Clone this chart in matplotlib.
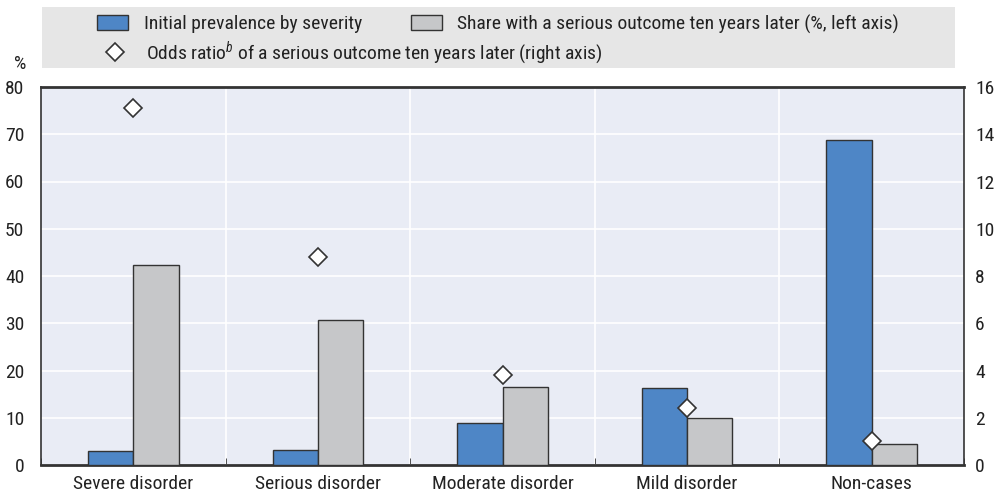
import matplotlib
matplotlib.use("Agg")
import matplotlib.pyplot as plt
import matplotlib.patches as mpatches
from matplotlib.lines import Line2D
import numpy as np

categories = ["Severe disorder", "Serious disorder", "Moderate disorder", "Mild disorder", "Non-cases"]
prevalence = [3.0, 3.2, 8.9, 16.4, 68.8]
share_serious = [42.3, 30.7, 16.5, 9.9, 4.4]
odds_ratio = [15.1, 8.8, 3.8, 2.4, 1.0]

left_ticks = [0, 10, 20, 30, 40, 50, 60, 70, 80]
right_ticks = [0, 2, 4, 6, 8, 10, 12, 14, 16]

blue = "#4E86C6"
grey = "#C6C7C9"
edge = "#333333"
txt = "#222222"
fs = 14

plt.rcParams['font.family'] = ['Roboto Condensed', 'DejaVu Sans']
plt.rcParams['mathtext.fontset'] = 'custom'
plt.rcParams['mathtext.it'] = 'Roboto Condensed:italic'
plt.rcParams['mathtext.rm'] = 'Roboto Condensed'

fig = plt.figure(figsize=(9.97, 4.99), dpi=100)
W, H = 997, 499
ax = fig.add_axes([41 / W, (H - 465) / H, (964 - 41) / W, (465 - 87) / H])
ax.set_facecolor("#E9ECF5")

x = np.arange(len(categories))
bw = 0.245
ax.bar(x - bw / 2, prevalence, bw, color=blue, edgecolor=edge, linewidth=1, zorder=3)
ax.bar(x + bw / 2, share_serious, bw, color=grey, edgecolor=edge, linewidth=1, zorder=3)

ax.set_xlim(-0.5, len(categories) - 0.5)
ax.set_ylim(0, 80)
ax.set_yticks(left_ticks)
ax.set_xticks(x)
ax.set_xticklabels(categories, fontsize=fs, color=txt)
ax.tick_params(axis='x', length=0, pad=7)
ax.tick_params(axis='y', length=0, labelsize=fs, labelcolor=txt, pad=12)
ax.set_xticks(np.arange(len(categories) + 1) - 0.5, minor=True)
ax.tick_params(axis='x', which='minor', direction='in', length=5, color=edge)

ax.grid(axis='y', color='white', linewidth=1.2, zorder=0)
for b in np.arange(1, len(categories)) - 0.5:
    ax.axvline(b, color='white', linewidth=1.2, zorder=0)
ax.set_axisbelow(True)

for s in ax.spines.values():
    s.set_color(edge)
    s.set_linewidth(1.2)
ax.spines['top'].set_linewidth(2)
ax.spines['bottom'].set_linewidth(2)

ax2 = ax.twinx()
ax2.set_ylim(0, 16)
ax2.set_yticks(right_ticks)
ax2.tick_params(axis='y', length=0, labelsize=fs, labelcolor=txt, pad=8)
ax2.plot(x, odds_ratio, linestyle='none', marker='D', markersize=9,
         markerfacecolor='white', markeredgecolor=edge, markeredgewidth=1.2, zorder=5)
for s in ax2.spines.values():
    s.set_visible(False)

fig.text(20 / W, 1 - 64 / H, "%", fontsize=fs, color=txt, ha='center', va='center')

# legend background
fig.patches.append(mpatches.Rectangle((42 / W, 1 - 68 / H), (955 - 42) / W, (68 - 7) / H,
                                      transform=fig.transFigure, facecolor="#E6E6E6",
                                      edgecolor='none', zorder=0))

h_blue = mpatches.Patch(facecolor=blue, edgecolor=edge, linewidth=1, label="Initial prevalence by severity")
h_grey = mpatches.Patch(facecolor=grey, edgecolor=edge, linewidth=1,
                        label="Share with a serious outcome ten years later (%, left axis)")
h_or = Line2D([], [], linestyle='none', marker='D', markersize=9, markerfacecolor='white',
              markeredgecolor=edge, markeredgewidth=1.2,
              label="Odds ratio$^{b}$ of a serious outcome ten years later (right axis)")

leg1 = fig.legend(handles=[h_blue, h_grey], ncol=2, loc='center left',
                  bbox_to_anchor=(97 / W, 1 - 24 / H), frameon=False, fontsize=fs,
                  columnspacing=2.5, handlelength=1.6, handleheight=0.75, handletextpad=0.8,
                  labelcolor=txt, borderpad=0, borderaxespad=0)
leg2 = fig.legend(handles=[h_or], loc='center left',
                  bbox_to_anchor=(99 / W, 1 - 53 / H), frameon=False, fontsize=fs,
                  handlelength=1.6, handletextpad=0.8, labelcolor=txt, borderpad=0,
                  borderaxespad=0)

fig.savefig("out.png", dpi=100)
